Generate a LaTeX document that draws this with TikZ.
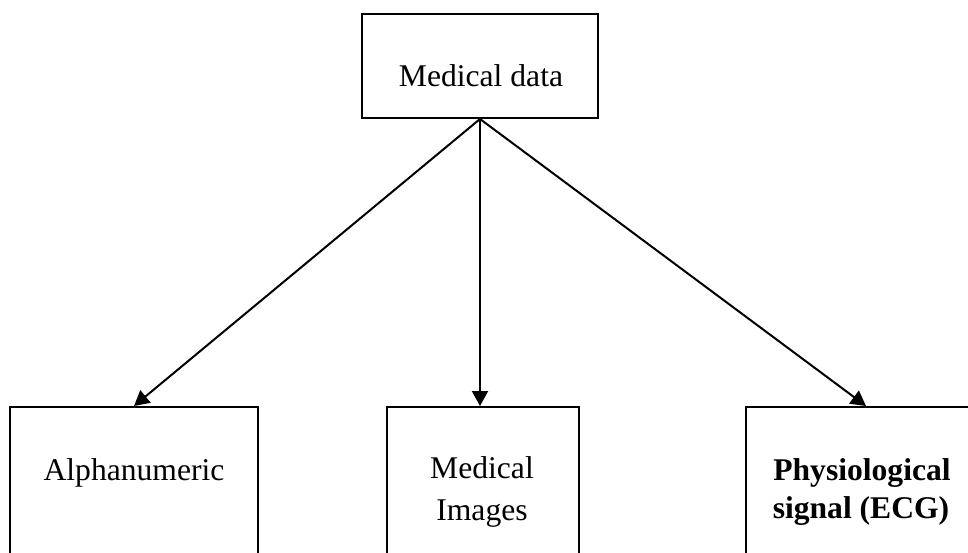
\documentclass[tikz,border=0pt]{standalone}
\usepackage{fontspec}
\setmainfont{Liberation Serif}
\usetikzlibrary{arrows.meta}
\begin{document}
\begin{tikzpicture}[x=1pt,y=-1pt,
  box/.style={draw=black,line width=2pt,rectangle,inner sep=0pt},
  lbl/.style={anchor=base,inner sep=0pt,font=\fontsize{31.6}{38}\selectfont},
  conn/.style={line width=2pt,-{Triangle[length=15pt,width=16pt]}}]
\useasboundingbox (0,0) rectangle (968,553);
\clip (0,0) rectangle (968,553);
\node[box,minimum width=236pt,minimum height=104pt] (top) at (480,66) {};
\node[box,minimum width=248pt,minimum height=200pt] (lbox) at (134,507) {};
\node[box,minimum width=192pt,minimum height=200pt] (mbox) at (483,507) {};
\node[box,minimum width=240pt,minimum height=200pt] (rbox) at (866,507) {};
\node[lbl] (ttop) at (481,87) {Medical data};
\node[lbl] (tl) at (134,480) {Alphanumeric};
\node[lbl] (tm1) at (482,478) {Medical};
\node[lbl] (tm2) at (482,520) {Images};
\node[lbl,font=\fontsize{31.6}{38}\selectfont\bfseries] (tr1) at (862,480) {Physiological};
\node[lbl,font=\fontsize{31.6}{38}\selectfont\bfseries] (tr2) at (861,518) {signal (ECG)};
\coordinate (apex) at (top.south);
\draw[conn] (apex) -- (lbox.north);
\draw[conn] (apex) -- (apex |- mbox.north);
\draw[conn] (apex) -- (rbox.north);
\end{tikzpicture}
\end{document}
